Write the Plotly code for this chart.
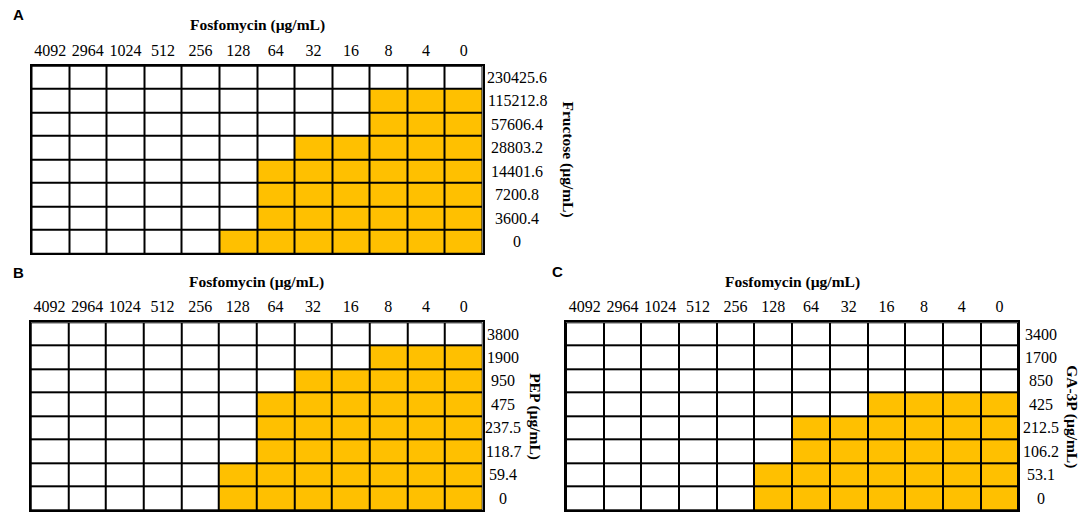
import plotly.graph_objects as go

# ---------------- data ----------------
fosfomycin_labels = ["4092", "2964", "1024", "512", "256", "128", "64", "32", "16", "8", "4", "0"]
fructose_labels = ["230425.6", "115212.8", "57606.4", "28803.2", "14401.6", "7200.8", "3600.4", "0"]
pep_labels = ["3800", "1900", "950", "475", "237.5", "118.7", "59.4", "0"]
ga3p_labels = ["3400", "1700", "850", "425", "212.5", "106.2", "53.1", "0"]

# 1 = growth (orange), 0 = no growth (white); rows top->bottom, columns left->right
fructose_growth = [
    [0, 0, 0, 0, 0, 0, 0, 0, 0, 0, 0, 0],
    [0, 0, 0, 0, 0, 0, 0, 0, 0, 1, 1, 1],
    [0, 0, 0, 0, 0, 0, 0, 0, 0, 1, 1, 1],
    [0, 0, 0, 0, 0, 0, 0, 1, 1, 1, 1, 1],
    [0, 0, 0, 0, 0, 0, 1, 1, 1, 1, 1, 1],
    [0, 0, 0, 0, 0, 0, 1, 1, 1, 1, 1, 1],
    [0, 0, 0, 0, 0, 0, 1, 1, 1, 1, 1, 1],
    [0, 0, 0, 0, 0, 1, 1, 1, 1, 1, 1, 1],
]
pep_growth = [
    [0, 0, 0, 0, 0, 0, 0, 0, 0, 0, 0, 0],
    [0, 0, 0, 0, 0, 0, 0, 0, 0, 1, 1, 1],
    [0, 0, 0, 0, 0, 0, 0, 1, 1, 1, 1, 1],
    [0, 0, 0, 0, 0, 0, 1, 1, 1, 1, 1, 1],
    [0, 0, 0, 0, 0, 0, 1, 1, 1, 1, 1, 1],
    [0, 0, 0, 0, 0, 0, 1, 1, 1, 1, 1, 1],
    [0, 0, 0, 0, 0, 1, 1, 1, 1, 1, 1, 1],
    [0, 0, 0, 0, 0, 1, 1, 1, 1, 1, 1, 1],
]
ga3p_growth = [
    [0, 0, 0, 0, 0, 0, 0, 0, 0, 0, 0, 0],
    [0, 0, 0, 0, 0, 0, 0, 0, 0, 0, 0, 0],
    [0, 0, 0, 0, 0, 0, 0, 0, 0, 0, 0, 0],
    [0, 0, 0, 0, 0, 0, 0, 0, 1, 1, 1, 1],
    [0, 0, 0, 0, 0, 0, 1, 1, 1, 1, 1, 1],
    [0, 0, 0, 0, 0, 0, 1, 1, 1, 1, 1, 1],
    [0, 0, 0, 0, 0, 1, 1, 1, 1, 1, 1, 1],
    [0, 0, 0, 0, 0, 1, 1, 1, 1, 1, 1, 1],
]

panel_letters = ["A", "B", "C"]
x_title = "Fosfomycin (µg/mL)"
y_titles = ["Fructose (µg/mL)", "PEP (µg/mL)", "GA-3P (µg/mL)"]

# ---------------- figure ----------------
W, H = 1084, 514
ORANGE = "#FFC000"
SERIF = "Liberation Serif"

def px(x):
    return x / W

def py(y):
    return 1 - y / H

# grid boxes in pixels: (left, right, top, bottom)
boxes = [
    (31.5, 482.5, 65.7, 253.3),
    (30.7, 482.5, 322.3, 510.0),
    (566.0, 1018.3, 322.3, 510.0),
]
row_label_x = [517, 503, 1040.5]
y_title_x = [568, 535, 1072]
letter_pos = [(18, 14), (18, 272), (557, 271)]
x_title_y = [25, 282, 282]

panels = [
    (fructose_labels, fructose_growth),
    (pep_labels, pep_growth),
    (ga3p_labels, ga3p_growth),
]

fig = go.Figure()
annotations = []
layout = {}

for i, (rows, growth) in enumerate(panels):
    n = "" if i == 0 else str(i + 1)
    row_idx = list(range(len(rows)))
    col_idx = list(range(len(fosfomycin_labels)))
    fig.add_trace(go.Heatmap(
        z=growth, x=col_idx, y=row_idx,
        xaxis="x" + n, yaxis="y" + n,
        colorscale=[[0, "white"], [1, ORANGE]], zmin=0, zmax=1,
        showscale=False, xgap=2, ygap=2, hoverinfo="skip",
    ))
    l, r, t, b = boxes[i]
    layout["xaxis" + n] = dict(
        domain=[px(l), px(r)], anchor="y" + n, side="top",
        range=[-0.5, len(col_idx) - 0.5],
        tickmode="array", tickvals=col_idx, ticktext=fosfomycin_labels,
        showgrid=False, zeroline=False, ticks="",
        showline=True, mirror=True, linecolor="black", linewidth=1.5,
        tickfont=dict(family=SERIF, size=16, color="black"),
        ticklabelstandoff=2,
        fixedrange=True,
    )
    layout["yaxis" + n] = dict(
        domain=[py(b), py(t)], anchor="x" + n,
        range=[len(rows) - 0.5, -0.5],
        showgrid=False, zeroline=False, ticks="",
        showticklabels=False, showline=True, mirror=True,
        linecolor="black", linewidth=1.5, fixedrange=True,
    )
    for k, lab in enumerate(rows):
        annotations.append(dict(
            xref="paper", yref="y" + n, x=px(row_label_x[i]), y=row_idx[k],
            text=lab, showarrow=False, xanchor="center", yanchor="middle",
            font=dict(family=SERIF, size=16, color="black"),
        ))
    annotations.append(dict(
        xref="paper", yref="paper", x=px((l + r) / 2), y=py(x_title_y[i]),
        text="<b>" + x_title + "</b>", showarrow=False,
        xanchor="center", yanchor="middle",
        font=dict(family=SERIF, size=15.5, color="black"),
    ))
    annotations.append(dict(
        xref="paper", yref="paper", x=px(y_title_x[i]), y=py((t + b) / 2),
        text="<b>" + y_titles[i] + "</b>", showarrow=False, textangle=90,
        xanchor="center", yanchor="middle",
        font=dict(family=SERIF, size=15.5, color="black"),
    ))
    lx, ly = letter_pos[i]
    annotations.append(dict(
        xref="paper", yref="paper", x=px(lx), y=py(ly),
        text="<b>" + panel_letters[i] + "</b>", showarrow=False,
        xanchor="center", yanchor="middle",
        font=dict(family="Liberation Sans", size=15, color="black"),
    ))

fig.update_layout(
    width=W, height=H, margin=dict(l=0, r=0, t=0, b=0),
    paper_bgcolor="white", plot_bgcolor="black",
    showlegend=False, annotations=annotations, **layout,
)

fig.write_html(
    "out.html",
    config={"displayModeBar": False},
    post_script="document.body.style.margin='0';document.body.style.overflow='hidden';",
)
